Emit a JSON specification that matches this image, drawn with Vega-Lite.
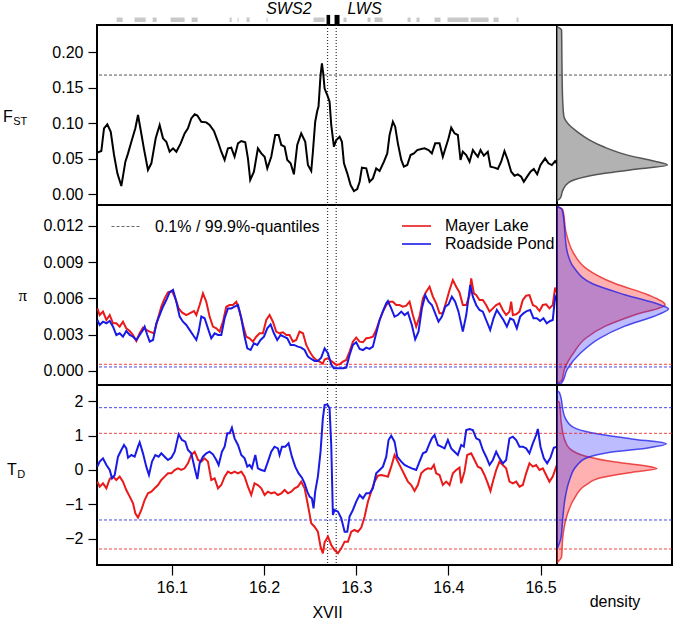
{
"$schema": "https://vega.github.io/schema/vega-lite/v6.json",
"padding": {"left": 2, "top": 0, "right": 2, "bottom": 2},
"background": "white",
"config": {
  "font": "Liberation Sans",
  "view": {"stroke": "#000", "strokeWidth": 2},
  "axis": {"labelFont": "Liberation Sans", "labelFontSize": 16, "labelColor": "#000", "tickColor": "#000", "tickSize": 9, "tickWidth": 1.2, "labelPadding": 5, "domain": false, "grid": false, "titleFont": "Liberation Sans", "titleFontSize": 16, "titleFontWeight": "normal", "titleColor": "#000"},
  "legend": {"labelFont": "Liberation Sans", "labelFontSize": 16, "labelColor": "#000", "padding": 0, "labelLimit": 400}
},
"datasets": {
  "genes": [{"start":16.0400,"end":16.0466},{"start":16.0595,"end":16.0715},{"start":16.0791,"end":16.0834},{"start":16.0986,"end":16.1138},{"start":16.1214,"end":16.1279},{"start":16.1626,"end":16.1648},{"start":16.1713,"end":16.1724},{"start":16.1810,"end":16.1843},{"start":16.2027,"end":16.2038},{"start":16.2537,"end":16.2656},{"start":16.2862,"end":16.2895},{"start":16.3123,"end":16.3155},{"start":16.3199,"end":16.3286},{"start":16.3557,"end":16.3590},{"start":16.3655,"end":16.3687},{"start":16.3850,"end":16.3915},{"start":16.3991,"end":16.4219},{"start":16.4241,"end":16.4436},{"start":16.4490,"end":16.4545},{"start":16.4740,"end":16.4761}],
  "focal": [{"name":"SWS2","start":16.2678,"end":16.2717},{"name":"LWS","start":16.2765,"end":16.2819}],
  "vlines": [{"pos":16.2689},{"pos":16.2783}],
  "fstq": [{"q":0.168}],
  "piq": [{"pop":"Mayer Lake","q":0.00055,"lab":"0.1% / 99.9%-quantiles"},{"pop":"Roadside Pond","q":0.00033,"lab":"0.1% / 99.9%-quantiles"}],
  "tdq": [{"pop":"Mayer Lake","q":1.063},{"pop":"Mayer Lake","q":-2.29},{"pop":"Roadside Pond","q":1.807},{"pop":"Roadside Pond","q":-1.449}],
  "fst": [{"pos":16.0191,"v":0.0587},{"pos":16.0234,"v":0.061},{"pos":16.0263,"v":0.093},{"pos":16.0299,"v":0.0986},{"pos":16.0336,"v":0.088},{"pos":16.0372,"v":0.0554},{"pos":16.0408,"v":0.0296},{"pos":16.0451,"v":0.0117},{"pos":16.0495,"v":0.046},{"pos":16.0524,"v":0.0577},{"pos":16.056,"v":0.074},{"pos":16.0603,"v":0.093},{"pos":16.0632,"v":0.1117},{"pos":16.0661,"v":0.0906},{"pos":16.0697,"v":0.0638},{"pos":16.074,"v":0.0343},{"pos":16.0777,"v":0.0437},{"pos":16.0824,"v":0.0789},{"pos":16.0867,"v":0.0977},{"pos":16.0903,"v":0.0789},{"pos":16.0939,"v":0.074},{"pos":16.0975,"v":0.06},{"pos":16.1012,"v":0.0648},{"pos":16.1048,"v":0.06},{"pos":16.1095,"v":0.0718},{"pos":16.1138,"v":0.0859},{"pos":16.1174,"v":0.093},{"pos":16.121,"v":0.107},{"pos":16.1247,"v":0.1127},{"pos":16.1276,"v":0.111},{"pos":16.1319,"v":0.1023},{"pos":16.1373,"v":0.1014},{"pos":16.1409,"v":0.0977},{"pos":16.1456,"v":0.0892},{"pos":16.15,"v":0.074},{"pos":16.1536,"v":0.06},{"pos":16.1572,"v":0.0484},{"pos":16.1608,"v":0.0648},{"pos":16.1644,"v":0.0657},{"pos":16.168,"v":0.053},{"pos":16.1717,"v":0.0718},{"pos":16.1753,"v":0.0751},{"pos":16.1796,"v":0.0732},{"pos":16.1825,"v":0.0507},{"pos":16.185,"v":0.0202},{"pos":16.189,"v":0.0319},{"pos":16.1933,"v":0.0648},{"pos":16.197,"v":0.0577},{"pos":16.2006,"v":0.053},{"pos":16.2035,"v":0.0366},{"pos":16.2078,"v":0.053},{"pos":16.2121,"v":0.0836},{"pos":16.2158,"v":0.0836},{"pos":16.2187,"v":0.0695},{"pos":16.2223,"v":0.0671},{"pos":16.2252,"v":0.0484},{"pos":16.2288,"v":0.0437},{"pos":16.2324,"v":0.0282},{"pos":16.236,"v":0.0695},{"pos":16.2403,"v":0.0859},{"pos":16.2447,"v":0.074},{"pos":16.2476,"v":0.0413},{"pos":16.2512,"v":0.0329},{"pos":16.253,"v":0.06},{"pos":16.2555,"v":0.1023},{"pos":16.2577,"v":0.1174},{"pos":16.2591,"v":0.1235},{"pos":16.2613,"v":0.168},{"pos":16.2628,"v":0.1845},{"pos":16.2642,"v":0.1704},{"pos":16.2657,"v":0.149},{"pos":16.2686,"v":0.1399},{"pos":16.2711,"v":0.1305},{"pos":16.2729,"v":0.0977},{"pos":16.2758,"v":0.0671},{"pos":16.2784,"v":0.0765},{"pos":16.282,"v":0.0812},{"pos":16.2845,"v":0.074},{"pos":16.2867,"v":0.0437},{"pos":16.2903,"v":0.0296},{"pos":16.2939,"v":0.0131},{"pos":16.2975,"v":0.0047},{"pos":16.3011,"v":0.0075},{"pos":16.3037,"v":0.0178},{"pos":16.3062,"v":0.0376},{"pos":16.3109,"v":0.0366},{"pos":16.3145,"v":0.0178},{"pos":16.3181,"v":0.0225},{"pos":16.3217,"v":0.0366},{"pos":16.3254,"v":0.0329},{"pos":16.3301,"v":0.046},{"pos":16.3337,"v":0.0577},{"pos":16.3362,"v":0.0836},{"pos":16.3398,"v":0.1023},{"pos":16.3423,"v":0.0953},{"pos":16.3452,"v":0.0718},{"pos":16.3489,"v":0.0484},{"pos":16.3517,"v":0.039},{"pos":16.3554,"v":0.0413},{"pos":16.359,"v":0.0554},{"pos":16.3626,"v":0.0577},{"pos":16.3662,"v":0.0624},{"pos":16.3705,"v":0.0638},{"pos":16.3742,"v":0.0648},{"pos":16.3785,"v":0.0624},{"pos":16.3821,"v":0.0577},{"pos":16.3857,"v":0.0718},{"pos":16.3904,"v":0.0718},{"pos":16.394,"v":0.053},{"pos":16.3966,"v":0.0638},{"pos":16.4002,"v":0.0789},{"pos":16.4031,"v":0.0939},{"pos":16.4067,"v":0.0859},{"pos":16.4103,"v":0.0836},{"pos":16.4132,"v":0.0484},{"pos":16.4157,"v":0.06},{"pos":16.4194,"v":0.0554},{"pos":16.423,"v":0.046},{"pos":16.4266,"v":0.0624},{"pos":16.4291,"v":0.0577},{"pos":16.432,"v":0.053},{"pos":16.4349,"v":0.0624},{"pos":16.4385,"v":0.0545},{"pos":16.4428,"v":0.06},{"pos":16.4457,"v":0.039},{"pos":16.4501,"v":0.0376},{"pos":16.4537,"v":0.0357},{"pos":16.4573,"v":0.046},{"pos":16.4609,"v":0.061},{"pos":16.4645,"v":0.0484},{"pos":16.4682,"v":0.0319},{"pos":16.4718,"v":0.0263},{"pos":16.4754,"v":0.0282},{"pos":16.479,"v":0.0249},{"pos":16.4819,"v":0.0178},{"pos":16.4855,"v":0.0249},{"pos":16.4891,"v":0.0319},{"pos":16.4927,"v":0.0357},{"pos":16.4964,"v":0.0282},{"pos":16.5,"v":0.0413},{"pos":16.505,"v":0.0507},{"pos":16.5086,"v":0.0437},{"pos":16.5123,"v":0.0413},{"pos":16.5159,"v":0.0469},{"pos":16.5177,"v":0.0437}],
  "pi": [
{"pop":"Mayer Lake","pos":16.0191,"v":0.00517},{"pop":"Mayer Lake","pos":16.0216,"v":0.00462},{"pop":"Mayer Lake","pos":16.0252,"v":0.0049},{"pop":"Mayer Lake","pos":16.0289,"v":0.00421},{"pop":"Mayer Lake","pos":16.0325,"v":0.00462},{"pop":"Mayer Lake","pos":16.0361,"v":0.00394},{"pop":"Mayer Lake","pos":16.0397,"v":0.00394},{"pop":"Mayer Lake","pos":16.0433,"v":0.00366},{"pop":"Mayer Lake","pos":16.0469,"v":0.00407},{"pop":"Mayer Lake","pos":16.0505,"v":0.00352},{"pop":"Mayer Lake","pos":16.0542,"v":0.0033},{"pop":"Mayer Lake","pos":16.0578,"v":0.00297},{"pop":"Mayer Lake","pos":16.0614,"v":0.00248},{"pop":"Mayer Lake","pos":16.065,"v":0.00311},{"pop":"Mayer Lake","pos":16.0686,"v":0.00358},{"pop":"Mayer Lake","pos":16.0722,"v":0.00339},{"pop":"Mayer Lake","pos":16.0759,"v":0.00325},{"pop":"Mayer Lake","pos":16.0806,"v":0.00311},{"pop":"Mayer Lake","pos":16.0849,"v":0.00435},{"pop":"Mayer Lake","pos":16.0885,"v":0.00531},{"pop":"Mayer Lake","pos":16.0921,"v":0.006},{"pop":"Mayer Lake","pos":16.0957,"v":0.00649},{"pop":"Mayer Lake","pos":16.1001,"v":0.0066},{"pop":"Mayer Lake","pos":16.1037,"v":0.006},{"pop":"Mayer Lake","pos":16.1073,"v":0.00517},{"pop":"Mayer Lake","pos":16.1109,"v":0.00484},{"pop":"Mayer Lake","pos":16.1156,"v":0.00462},{"pop":"Mayer Lake","pos":16.1192,"v":0.00476},{"pop":"Mayer Lake","pos":16.1239,"v":0.00495},{"pop":"Mayer Lake","pos":16.1265,"v":0.00462},{"pop":"Mayer Lake","pos":16.1301,"v":0.00545},{"pop":"Mayer Lake","pos":16.1337,"v":0.00641},{"pop":"Mayer Lake","pos":16.1373,"v":0.00572},{"pop":"Mayer Lake","pos":16.1409,"v":0.00449},{"pop":"Mayer Lake","pos":16.1445,"v":0.00366},{"pop":"Mayer Lake","pos":16.1482,"v":0.00352},{"pop":"Mayer Lake","pos":16.1518,"v":0.00325},{"pop":"Mayer Lake","pos":16.1554,"v":0.00407},{"pop":"Mayer Lake","pos":16.159,"v":0.00531},{"pop":"Mayer Lake","pos":16.1626,"v":0.00545},{"pop":"Mayer Lake","pos":16.1662,"v":0.00545},{"pop":"Mayer Lake","pos":16.1699,"v":0.00572},{"pop":"Mayer Lake","pos":16.1735,"v":0.0049},{"pop":"Mayer Lake","pos":16.1771,"v":0.0038},{"pop":"Mayer Lake","pos":16.1807,"v":0.00283},{"pop":"Mayer Lake","pos":16.1843,"v":0.0027},{"pop":"Mayer Lake","pos":16.1879,"v":0.00242},{"pop":"Mayer Lake","pos":16.1915,"v":0.00283},{"pop":"Mayer Lake","pos":16.1952,"v":0.00311},{"pop":"Mayer Lake","pos":16.1988,"v":0.00311},{"pop":"Mayer Lake","pos":16.2024,"v":0.00421},{"pop":"Mayer Lake","pos":16.206,"v":0.00462},{"pop":"Mayer Lake","pos":16.2096,"v":0.00407},{"pop":"Mayer Lake","pos":16.2132,"v":0.00325},{"pop":"Mayer Lake","pos":16.2168,"v":0.00311},{"pop":"Mayer Lake","pos":16.2205,"v":0.00319},{"pop":"Mayer Lake","pos":16.2241,"v":0.00297},{"pop":"Mayer Lake","pos":16.2277,"v":0.00297},{"pop":"Mayer Lake","pos":16.2313,"v":0.00242},{"pop":"Mayer Lake","pos":16.2349,"v":0.00256},{"pop":"Mayer Lake","pos":16.2385,"v":0.00325},{"pop":"Mayer Lake","pos":16.2422,"v":0.00311},{"pop":"Mayer Lake","pos":16.2458,"v":0.00215},{"pop":"Mayer Lake","pos":16.2494,"v":0.0016},{"pop":"Mayer Lake","pos":16.253,"v":0.00118},{"pop":"Mayer Lake","pos":16.2566,"v":0.00091},{"pop":"Mayer Lake","pos":16.2602,"v":0.00077},{"pop":"Mayer Lake","pos":16.2638,"v":0.00061},{"pop":"Mayer Lake","pos":16.2657,"v":0.00095},{"pop":"Mayer Lake","pos":16.2693,"v":0.00105},{"pop":"Mayer Lake","pos":16.2729,"v":0.00083},{"pop":"Mayer Lake","pos":16.2784,"v":0.0005},{"pop":"Mayer Lake","pos":16.282,"v":0.00055},{"pop":"Mayer Lake","pos":16.2856,"v":0.00077},{"pop":"Mayer Lake","pos":16.2892,"v":0.00091},{"pop":"Mayer Lake","pos":16.2928,"v":0.0016},{"pop":"Mayer Lake","pos":16.2964,"v":0.00242},{"pop":"Mayer Lake","pos":16.3,"v":0.00275},{"pop":"Mayer Lake","pos":16.3037,"v":0.00242},{"pop":"Mayer Lake","pos":16.3073,"v":0.00237},{"pop":"Mayer Lake","pos":16.3109,"v":0.0027},{"pop":"Mayer Lake","pos":16.3145,"v":0.00275},{"pop":"Mayer Lake","pos":16.3181,"v":0.00283},{"pop":"Mayer Lake","pos":16.3217,"v":0.00339},{"pop":"Mayer Lake","pos":16.3254,"v":0.00421},{"pop":"Mayer Lake","pos":16.329,"v":0.0049},{"pop":"Mayer Lake","pos":16.3326,"v":0.00545},{"pop":"Mayer Lake","pos":16.3362,"v":0.00572},{"pop":"Mayer Lake","pos":16.3398,"v":0.00572},{"pop":"Mayer Lake","pos":16.3434,"v":0.00545},{"pop":"Mayer Lake","pos":16.347,"v":0.00545},{"pop":"Mayer Lake","pos":16.3507,"v":0.00531},{"pop":"Mayer Lake","pos":16.3543,"v":0.00539},{"pop":"Mayer Lake","pos":16.3579,"v":0.00572},{"pop":"Mayer Lake","pos":16.3615,"v":0.00462},{"pop":"Mayer Lake","pos":16.3651,"v":0.00366},{"pop":"Mayer Lake","pos":16.3687,"v":0.00449},{"pop":"Mayer Lake","pos":16.3724,"v":0.006},{"pop":"Mayer Lake","pos":16.376,"v":0.00655},{"pop":"Mayer Lake","pos":16.3796,"v":0.00696},{"pop":"Mayer Lake","pos":16.3832,"v":0.00614},{"pop":"Mayer Lake","pos":16.3868,"v":0.00559},{"pop":"Mayer Lake","pos":16.3904,"v":0.00476},{"pop":"Mayer Lake","pos":16.394,"v":0.00476},{"pop":"Mayer Lake","pos":16.3977,"v":0.00572},{"pop":"Mayer Lake","pos":16.4013,"v":0.00669},{"pop":"Mayer Lake","pos":16.4049,"v":0.00751},{"pop":"Mayer Lake","pos":16.4085,"v":0.00696},{"pop":"Mayer Lake","pos":16.4121,"v":0.00649},{"pop":"Mayer Lake","pos":16.4157,"v":0.00545},{"pop":"Mayer Lake","pos":16.4194,"v":0.00545},{"pop":"Mayer Lake","pos":16.423,"v":0.00627},{"pop":"Mayer Lake","pos":16.4248,"v":0.00765},{"pop":"Mayer Lake","pos":16.4277,"v":0.00641},{"pop":"Mayer Lake","pos":16.4302,"v":0.00627},{"pop":"Mayer Lake","pos":16.4338,"v":0.00586},{"pop":"Mayer Lake","pos":16.4374,"v":0.00586},{"pop":"Mayer Lake","pos":16.441,"v":0.00545},{"pop":"Mayer Lake","pos":16.4447,"v":0.0049},{"pop":"Mayer Lake","pos":16.4483,"v":0.00517},{"pop":"Mayer Lake","pos":16.4519,"v":0.00545},{"pop":"Mayer Lake","pos":16.4555,"v":0.00559},{"pop":"Mayer Lake","pos":16.4591,"v":0.00504},{"pop":"Mayer Lake","pos":16.4627,"v":0.00462},{"pop":"Mayer Lake","pos":16.4663,"v":0.0049},{"pop":"Mayer Lake","pos":16.4682,"v":0.00572},{"pop":"Mayer Lake","pos":16.47,"v":0.00462},{"pop":"Mayer Lake","pos":16.4736,"v":0.00468},{"pop":"Mayer Lake","pos":16.4772,"v":0.0049},{"pop":"Mayer Lake","pos":16.4808,"v":0.00586},{"pop":"Mayer Lake","pos":16.4844,"v":0.00622},{"pop":"Mayer Lake","pos":16.488,"v":0.00627},{"pop":"Mayer Lake","pos":16.4917,"v":0.00545},{"pop":"Mayer Lake","pos":16.4953,"v":0.00531},{"pop":"Mayer Lake","pos":16.4989,"v":0.00495},{"pop":"Mayer Lake","pos":16.5025,"v":0.00545},{"pop":"Mayer Lake","pos":16.5061,"v":0.0055},{"pop":"Mayer Lake","pos":16.5097,"v":0.00517},{"pop":"Mayer Lake","pos":16.5133,"v":0.00545},{"pop":"Mayer Lake","pos":16.5159,"v":0.00688},{"pop":"Mayer Lake","pos":16.5177,"v":0.00649},
{"pop":"Roadside Pond","pos":16.0191,"v":0.00421},{"pop":"Roadside Pond","pos":16.0216,"v":0.0038},{"pop":"Roadside Pond","pos":16.0252,"v":0.00407},{"pop":"Roadside Pond","pos":16.0289,"v":0.00394},{"pop":"Roadside Pond","pos":16.0325,"v":0.00413},{"pop":"Roadside Pond","pos":16.0361,"v":0.00366},{"pop":"Roadside Pond","pos":16.0397,"v":0.00297},{"pop":"Roadside Pond","pos":16.0433,"v":0.00311},{"pop":"Roadside Pond","pos":16.0469,"v":0.00283},{"pop":"Roadside Pond","pos":16.0505,"v":0.0033},{"pop":"Roadside Pond","pos":16.0542,"v":0.00297},{"pop":"Roadside Pond","pos":16.0578,"v":0.00283},{"pop":"Roadside Pond","pos":16.0614,"v":0.00256},{"pop":"Roadside Pond","pos":16.065,"v":0.00297},{"pop":"Roadside Pond","pos":16.0686,"v":0.00339},{"pop":"Roadside Pond","pos":16.0704,"v":0.00366},{"pop":"Roadside Pond","pos":16.0733,"v":0.00297},{"pop":"Roadside Pond","pos":16.0759,"v":0.00242},{"pop":"Roadside Pond","pos":16.0795,"v":0.00256},{"pop":"Roadside Pond","pos":16.0831,"v":0.00394},{"pop":"Roadside Pond","pos":16.0867,"v":0.00462},{"pop":"Roadside Pond","pos":16.0903,"v":0.00531},{"pop":"Roadside Pond","pos":16.0939,"v":0.00586},{"pop":"Roadside Pond","pos":16.0975,"v":0.00649},{"pop":"Roadside Pond","pos":16.1012,"v":0.00669},{"pop":"Roadside Pond","pos":16.1048,"v":0.00572},{"pop":"Roadside Pond","pos":16.1084,"v":0.00449},{"pop":"Roadside Pond","pos":16.112,"v":0.00407},{"pop":"Roadside Pond","pos":16.1156,"v":0.0038},{"pop":"Roadside Pond","pos":16.1192,"v":0.00339},{"pop":"Roadside Pond","pos":16.1229,"v":0.00297},{"pop":"Roadside Pond","pos":16.1265,"v":0.00256},{"pop":"Roadside Pond","pos":16.129,"v":0.00325},{"pop":"Roadside Pond","pos":16.1319,"v":0.00449},{"pop":"Roadside Pond","pos":16.1355,"v":0.00435},{"pop":"Roadside Pond","pos":16.1391,"v":0.00352},{"pop":"Roadside Pond","pos":16.1427,"v":0.0027},{"pop":"Roadside Pond","pos":16.1464,"v":0.00311},{"pop":"Roadside Pond","pos":16.15,"v":0.00297},{"pop":"Roadside Pond","pos":16.1536,"v":0.00297},{"pop":"Roadside Pond","pos":16.1572,"v":0.00435},{"pop":"Roadside Pond","pos":16.1608,"v":0.00517},{"pop":"Roadside Pond","pos":16.1644,"v":0.00517},{"pop":"Roadside Pond","pos":16.168,"v":0.00531},{"pop":"Roadside Pond","pos":16.1717,"v":0.00545},{"pop":"Roadside Pond","pos":16.1753,"v":0.00435},{"pop":"Roadside Pond","pos":16.1789,"v":0.00283},{"pop":"Roadside Pond","pos":16.1818,"v":0.00187},{"pop":"Roadside Pond","pos":16.1854,"v":0.00173},{"pop":"Roadside Pond","pos":16.189,"v":0.00228},{"pop":"Roadside Pond","pos":16.1926,"v":0.00215},{"pop":"Roadside Pond","pos":16.1962,"v":0.00256},{"pop":"Roadside Pond","pos":16.1999,"v":0.00283},{"pop":"Roadside Pond","pos":16.2035,"v":0.00352},{"pop":"Roadside Pond","pos":16.2071,"v":0.00385},{"pop":"Roadside Pond","pos":16.2107,"v":0.00311},{"pop":"Roadside Pond","pos":16.2143,"v":0.00256},{"pop":"Roadside Pond","pos":16.2179,"v":0.00297},{"pop":"Roadside Pond","pos":16.2215,"v":0.00283},{"pop":"Roadside Pond","pos":16.2252,"v":0.0027},{"pop":"Roadside Pond","pos":16.2288,"v":0.00215},{"pop":"Roadside Pond","pos":16.2324,"v":0.00215},{"pop":"Roadside Pond","pos":16.2367,"v":0.00201},{"pop":"Roadside Pond","pos":16.2403,"v":0.00193},{"pop":"Roadside Pond","pos":16.244,"v":0.00173},{"pop":"Roadside Pond","pos":16.2476,"v":0.00118},{"pop":"Roadside Pond","pos":16.2512,"v":0.00099},{"pop":"Roadside Pond","pos":16.2548,"v":0.00083},{"pop":"Roadside Pond","pos":16.2584,"v":0.00083},{"pop":"Roadside Pond","pos":16.262,"v":0.0011},{"pop":"Roadside Pond","pos":16.2657,"v":0.00187},{"pop":"Roadside Pond","pos":16.2693,"v":0.00146},{"pop":"Roadside Pond","pos":16.2729,"v":0.00055},{"pop":"Roadside Pond","pos":16.2758,"v":0.00022},{"pop":"Roadside Pond","pos":16.2802,"v":0.00022},{"pop":"Roadside Pond","pos":16.2856,"v":0.00022},{"pop":"Roadside Pond","pos":16.2892,"v":0.00028},{"pop":"Roadside Pond","pos":16.2928,"v":0.00132},{"pop":"Roadside Pond","pos":16.2964,"v":0.00215},{"pop":"Roadside Pond","pos":16.3,"v":0.00237},{"pop":"Roadside Pond","pos":16.3037,"v":0.00182},{"pop":"Roadside Pond","pos":16.3073,"v":0.00173},{"pop":"Roadside Pond","pos":16.3109,"v":0.00193},{"pop":"Roadside Pond","pos":16.3145,"v":0.00182},{"pop":"Roadside Pond","pos":16.3181,"v":0.00201},{"pop":"Roadside Pond","pos":16.3217,"v":0.00311},{"pop":"Roadside Pond","pos":16.3254,"v":0.00421},{"pop":"Roadside Pond","pos":16.329,"v":0.00495},{"pop":"Roadside Pond","pos":16.3326,"v":0.00559},{"pop":"Roadside Pond","pos":16.3344,"v":0.00578},{"pop":"Roadside Pond","pos":16.338,"v":0.00517},{"pop":"Roadside Pond","pos":16.3416,"v":0.00449},{"pop":"Roadside Pond","pos":16.3452,"v":0.00462},{"pop":"Roadside Pond","pos":16.3489,"v":0.0049},{"pop":"Roadside Pond","pos":16.3525,"v":0.00462},{"pop":"Roadside Pond","pos":16.3561,"v":0.00484},{"pop":"Roadside Pond","pos":16.3604,"v":0.0038},{"pop":"Roadside Pond","pos":16.364,"v":0.00261},{"pop":"Roadside Pond","pos":16.3676,"v":0.00325},{"pop":"Roadside Pond","pos":16.3713,"v":0.00517},{"pop":"Roadside Pond","pos":16.3749,"v":0.00627},{"pop":"Roadside Pond","pos":16.3785,"v":0.00572},{"pop":"Roadside Pond","pos":16.3821,"v":0.00545},{"pop":"Roadside Pond","pos":16.3857,"v":0.00476},{"pop":"Roadside Pond","pos":16.3893,"v":0.00407},{"pop":"Roadside Pond","pos":16.393,"v":0.00449},{"pop":"Roadside Pond","pos":16.3966,"v":0.00531},{"pop":"Roadside Pond","pos":16.4002,"v":0.0055},{"pop":"Roadside Pond","pos":16.4038,"v":0.00614},{"pop":"Roadside Pond","pos":16.4074,"v":0.00572},{"pop":"Roadside Pond","pos":16.411,"v":0.0049},{"pop":"Roadside Pond","pos":16.4157,"v":0.00325},{"pop":"Roadside Pond","pos":16.4194,"v":0.00462},{"pop":"Roadside Pond","pos":16.4237,"v":0.0071},{"pop":"Roadside Pond","pos":16.4266,"v":0.00614},{"pop":"Roadside Pond","pos":16.4302,"v":0.00545},{"pop":"Roadside Pond","pos":16.4338,"v":0.00504},{"pop":"Roadside Pond","pos":16.4374,"v":0.0049},{"pop":"Roadside Pond","pos":16.441,"v":0.00421},{"pop":"Roadside Pond","pos":16.4454,"v":0.00339},{"pop":"Roadside Pond","pos":16.449,"v":0.00435},{"pop":"Roadside Pond","pos":16.4526,"v":0.00504},{"pop":"Roadside Pond","pos":16.4562,"v":0.00462},{"pop":"Roadside Pond","pos":16.4598,"v":0.00421},{"pop":"Roadside Pond","pos":16.4635,"v":0.00366},{"pop":"Roadside Pond","pos":16.4671,"v":0.00435},{"pop":"Roadside Pond","pos":16.4707,"v":0.00421},{"pop":"Roadside Pond","pos":16.4743,"v":0.00352},{"pop":"Roadside Pond","pos":16.4779,"v":0.00449},{"pop":"Roadside Pond","pos":16.4815,"v":0.00476},{"pop":"Roadside Pond","pos":16.4851,"v":0.00495},{"pop":"Roadside Pond","pos":16.4888,"v":0.00504},{"pop":"Roadside Pond","pos":16.4924,"v":0.00435},{"pop":"Roadside Pond","pos":16.496,"v":0.00435},{"pop":"Roadside Pond","pos":16.4996,"v":0.00413},{"pop":"Roadside Pond","pos":16.5032,"v":0.00435},{"pop":"Roadside Pond","pos":16.5068,"v":0.00394},{"pop":"Roadside Pond","pos":16.5105,"v":0.00413},{"pop":"Roadside Pond","pos":16.5133,"v":0.00421},{"pop":"Roadside Pond","pos":16.5159,"v":0.00614},{"pop":"Roadside Pond","pos":16.5177,"v":0.00586}],
  "td": [
{"pop":"Mayer Lake","pos":16.0191,"v":-0.338},{"pop":"Mayer Lake","pos":16.0216,"v":-0.483},{"pop":"Mayer Lake","pos":16.0252,"v":-0.386},{"pop":"Mayer Lake","pos":16.0289,"v":-0.531},{"pop":"Mayer Lake","pos":16.0325,"v":-0.261},{"pop":"Mayer Lake","pos":16.0361,"v":-0.193},{"pop":"Mayer Lake","pos":16.0397,"v":-0.29},{"pop":"Mayer Lake","pos":16.0433,"v":-0.193},{"pop":"Mayer Lake","pos":16.0469,"v":-0.338},{"pop":"Mayer Lake","pos":16.0505,"v":-0.58},{"pop":"Mayer Lake","pos":16.0542,"v":-0.773},{"pop":"Mayer Lake","pos":16.0578,"v":-0.966},{"pop":"Mayer Lake","pos":16.0603,"v":-1.256},{"pop":"Mayer Lake","pos":16.0632,"v":-1.382},{"pop":"Mayer Lake","pos":16.0668,"v":-1.159},{"pop":"Mayer Lake","pos":16.0704,"v":-0.87},{"pop":"Mayer Lake","pos":16.074,"v":-0.676},{"pop":"Mayer Lake","pos":16.0777,"v":-0.628},{"pop":"Mayer Lake","pos":16.0813,"v":-0.531},{"pop":"Mayer Lake","pos":16.0849,"v":-0.435},{"pop":"Mayer Lake","pos":16.0885,"v":-0.29},{"pop":"Mayer Lake","pos":16.0921,"v":-0.193},{"pop":"Mayer Lake","pos":16.0957,"v":-0.097},{"pop":"Mayer Lake","pos":16.0994,"v":-0.097},{"pop":"Mayer Lake","pos":16.103,"v":0},{"pop":"Mayer Lake","pos":16.1066,"v":0.048},{"pop":"Mayer Lake","pos":16.1102,"v":0},{"pop":"Mayer Lake","pos":16.1138,"v":0.048},{"pop":"Mayer Lake","pos":16.1174,"v":0.193},{"pop":"Mayer Lake","pos":16.121,"v":0.435},{"pop":"Mayer Lake","pos":16.1247,"v":0.531},{"pop":"Mayer Lake","pos":16.1283,"v":0.29},{"pop":"Mayer Lake","pos":16.1319,"v":0.242},{"pop":"Mayer Lake","pos":16.1355,"v":0.338},{"pop":"Mayer Lake","pos":16.1391,"v":0.242},{"pop":"Mayer Lake","pos":16.1427,"v":-0.29},{"pop":"Mayer Lake","pos":16.1464,"v":-0.242},{"pop":"Mayer Lake","pos":16.15,"v":-0.531},{"pop":"Mayer Lake","pos":16.1536,"v":-0.435},{"pop":"Mayer Lake","pos":16.1572,"v":-0.193},{"pop":"Mayer Lake","pos":16.1608,"v":-0.048},{"pop":"Mayer Lake","pos":16.1644,"v":-0.097},{"pop":"Mayer Lake","pos":16.168,"v":-0.048},{"pop":"Mayer Lake","pos":16.1717,"v":-0.097},{"pop":"Mayer Lake","pos":16.1753,"v":-0.048},{"pop":"Mayer Lake","pos":16.1789,"v":-0.193},{"pop":"Mayer Lake","pos":16.1825,"v":-0.483},{"pop":"Mayer Lake","pos":16.1861,"v":-0.725},{"pop":"Mayer Lake","pos":16.1897,"v":-0.386},{"pop":"Mayer Lake","pos":16.1933,"v":-0.435},{"pop":"Mayer Lake","pos":16.197,"v":-0.531},{"pop":"Mayer Lake","pos":16.2006,"v":-0.725},{"pop":"Mayer Lake","pos":16.2042,"v":-0.628},{"pop":"Mayer Lake","pos":16.2078,"v":-0.676},{"pop":"Mayer Lake","pos":16.2114,"v":-0.647},{"pop":"Mayer Lake","pos":16.215,"v":-0.725},{"pop":"Mayer Lake","pos":16.2187,"v":-0.676},{"pop":"Mayer Lake","pos":16.2223,"v":-0.58},{"pop":"Mayer Lake","pos":16.2259,"v":-0.676},{"pop":"Mayer Lake","pos":16.2295,"v":-0.628},{"pop":"Mayer Lake","pos":16.2331,"v":-0.531},{"pop":"Mayer Lake","pos":16.2367,"v":-0.483},{"pop":"Mayer Lake","pos":16.2403,"v":-0.338},{"pop":"Mayer Lake","pos":16.244,"v":-0.531},{"pop":"Mayer Lake","pos":16.2476,"v":-1.014},{"pop":"Mayer Lake","pos":16.2512,"v":-1.546},{"pop":"Mayer Lake","pos":16.2548,"v":-1.643},{"pop":"Mayer Lake","pos":16.2584,"v":-1.787},{"pop":"Mayer Lake","pos":16.2613,"v":-2.222},{"pop":"Mayer Lake","pos":16.2638,"v":-2.415},{"pop":"Mayer Lake","pos":16.2657,"v":-2.1},{"pop":"Mayer Lake","pos":16.2693,"v":-1.932},{"pop":"Mayer Lake","pos":16.2729,"v":-2.174},{"pop":"Mayer Lake","pos":16.2765,"v":-2.319},{"pop":"Mayer Lake","pos":16.2802,"v":-2.415},{"pop":"Mayer Lake","pos":16.2838,"v":-2.271},{"pop":"Mayer Lake","pos":16.2874,"v":-2.077},{"pop":"Mayer Lake","pos":16.291,"v":-2.077},{"pop":"Mayer Lake","pos":16.2946,"v":-1.787},{"pop":"Mayer Lake","pos":16.2982,"v":-1.739},{"pop":"Mayer Lake","pos":16.3019,"v":-1.787},{"pop":"Mayer Lake","pos":16.3055,"v":-1.671},{"pop":"Mayer Lake","pos":16.3091,"v":-1.353},{"pop":"Mayer Lake","pos":16.3127,"v":-0.918},{"pop":"Mayer Lake","pos":16.3163,"v":-0.628},{"pop":"Mayer Lake","pos":16.3199,"v":-0.338},{"pop":"Mayer Lake","pos":16.3235,"v":-0.164},{"pop":"Mayer Lake","pos":16.3272,"v":-0.145},{"pop":"Mayer Lake","pos":16.3308,"v":-0.164},{"pop":"Mayer Lake","pos":16.3344,"v":-0.193},{"pop":"Mayer Lake","pos":16.338,"v":0.097},{"pop":"Mayer Lake","pos":16.3416,"v":0.435},{"pop":"Mayer Lake","pos":16.3452,"v":0.242},{"pop":"Mayer Lake","pos":16.3489,"v":0.048},{"pop":"Mayer Lake","pos":16.3525,"v":-0.145},{"pop":"Mayer Lake","pos":16.3561,"v":-0.338},{"pop":"Mayer Lake","pos":16.3597,"v":-0.435},{"pop":"Mayer Lake","pos":16.3633,"v":-0.609},{"pop":"Mayer Lake","pos":16.3669,"v":-0.435},{"pop":"Mayer Lake","pos":16.3705,"v":-0.097},{"pop":"Mayer Lake","pos":16.3742,"v":0},{"pop":"Mayer Lake","pos":16.3778,"v":0.048},{"pop":"Mayer Lake","pos":16.3814,"v":0.029},{"pop":"Mayer Lake","pos":16.3843,"v":0.145},{"pop":"Mayer Lake","pos":16.3868,"v":-0.097},{"pop":"Mayer Lake","pos":16.3904,"v":-0.145},{"pop":"Mayer Lake","pos":16.394,"v":-0.435},{"pop":"Mayer Lake","pos":16.3977,"v":-0.338},{"pop":"Mayer Lake","pos":16.4013,"v":-0.435},{"pop":"Mayer Lake","pos":16.4049,"v":-0.097},{"pop":"Mayer Lake","pos":16.4085,"v":0},{"pop":"Mayer Lake","pos":16.4121,"v":0.068},{"pop":"Mayer Lake","pos":16.4139,"v":-0.386},{"pop":"Mayer Lake","pos":16.4175,"v":-0.048},{"pop":"Mayer Lake","pos":16.4204,"v":0.435},{"pop":"Mayer Lake","pos":16.4248,"v":0.483},{"pop":"Mayer Lake","pos":16.4284,"v":0.29},{"pop":"Mayer Lake","pos":16.432,"v":0.097},{"pop":"Mayer Lake","pos":16.4356,"v":0.048},{"pop":"Mayer Lake","pos":16.4392,"v":-0.145},{"pop":"Mayer Lake","pos":16.4428,"v":-0.386},{"pop":"Mayer Lake","pos":16.4457,"v":-0.609},{"pop":"Mayer Lake","pos":16.4483,"v":-0.338},{"pop":"Mayer Lake","pos":16.4519,"v":0},{"pop":"Mayer Lake","pos":16.4555,"v":0.242},{"pop":"Mayer Lake","pos":16.4591,"v":0.145},{"pop":"Mayer Lake","pos":16.4627,"v":0.048},{"pop":"Mayer Lake","pos":16.4663,"v":-0.338},{"pop":"Mayer Lake","pos":16.47,"v":-0.386},{"pop":"Mayer Lake","pos":16.4736,"v":-0.338},{"pop":"Mayer Lake","pos":16.4772,"v":-0.483},{"pop":"Mayer Lake","pos":16.4808,"v":-0.435},{"pop":"Mayer Lake","pos":16.4844,"v":-0.097},{"pop":"Mayer Lake","pos":16.488,"v":0.193},{"pop":"Mayer Lake","pos":16.4917,"v":0.097},{"pop":"Mayer Lake","pos":16.4953,"v":0.145},{"pop":"Mayer Lake","pos":16.4989,"v":0},{"pop":"Mayer Lake","pos":16.5025,"v":0.048},{"pop":"Mayer Lake","pos":16.5061,"v":-0.145},{"pop":"Mayer Lake","pos":16.5097,"v":-0.338},{"pop":"Mayer Lake","pos":16.5133,"v":-0.193},{"pop":"Mayer Lake","pos":16.5177,"v":0.145},
{"pop":"Roadside Pond","pos":16.0191,"v":0.097},{"pop":"Roadside Pond","pos":16.0216,"v":0.242},{"pop":"Roadside Pond","pos":16.0252,"v":0.338},{"pop":"Roadside Pond","pos":16.0289,"v":0.145},{"pop":"Roadside Pond","pos":16.0325,"v":0},{"pop":"Roadside Pond","pos":16.035,"v":-0.242},{"pop":"Roadside Pond","pos":16.0379,"v":-0.145},{"pop":"Roadside Pond","pos":16.0415,"v":0.386},{"pop":"Roadside Pond","pos":16.0451,"v":0.58},{"pop":"Roadside Pond","pos":16.048,"v":0.725},{"pop":"Roadside Pond","pos":16.0505,"v":0.628},{"pop":"Roadside Pond","pos":16.0524,"v":0.357},{"pop":"Roadside Pond","pos":16.056,"v":0.435},{"pop":"Roadside Pond","pos":16.0596,"v":0.386},{"pop":"Roadside Pond","pos":16.0632,"v":0.676},{"pop":"Roadside Pond","pos":16.065,"v":0.802},{"pop":"Roadside Pond","pos":16.0686,"v":0.483},{"pop":"Roadside Pond","pos":16.0722,"v":0.097},{"pop":"Roadside Pond","pos":16.0751,"v":-0.145},{"pop":"Roadside Pond","pos":16.0784,"v":0.242},{"pop":"Roadside Pond","pos":16.082,"v":0.435},{"pop":"Roadside Pond","pos":16.0856,"v":0.386},{"pop":"Roadside Pond","pos":16.0885,"v":0.483},{"pop":"Roadside Pond","pos":16.0921,"v":0.386},{"pop":"Roadside Pond","pos":16.0957,"v":0.29},{"pop":"Roadside Pond","pos":16.0994,"v":0.357},{"pop":"Roadside Pond","pos":16.103,"v":0.531},{"pop":"Roadside Pond","pos":16.1073,"v":1.034},{"pop":"Roadside Pond","pos":16.1109,"v":0.87},{"pop":"Roadside Pond","pos":16.1145,"v":0.821},{"pop":"Roadside Pond","pos":16.1174,"v":0.58},{"pop":"Roadside Pond","pos":16.121,"v":0.483},{"pop":"Roadside Pond","pos":16.1247,"v":0.048},{"pop":"Roadside Pond","pos":16.1276,"v":-0.261},{"pop":"Roadside Pond","pos":16.1301,"v":0.193},{"pop":"Roadside Pond","pos":16.1337,"v":0.386},{"pop":"Roadside Pond","pos":16.1373,"v":0.483},{"pop":"Roadside Pond","pos":16.1409,"v":0.531},{"pop":"Roadside Pond","pos":16.1445,"v":0.454},{"pop":"Roadside Pond","pos":16.1482,"v":0.29},{"pop":"Roadside Pond","pos":16.1507,"v":0.145},{"pop":"Roadside Pond","pos":16.1543,"v":0.531},{"pop":"Roadside Pond","pos":16.1572,"v":0.676},{"pop":"Roadside Pond","pos":16.1601,"v":1.063},{"pop":"Roadside Pond","pos":16.1626,"v":1.063},{"pop":"Roadside Pond","pos":16.1651,"v":1.227},{"pop":"Roadside Pond","pos":16.168,"v":0.918},{"pop":"Roadside Pond","pos":16.1717,"v":0.725},{"pop":"Roadside Pond","pos":16.1753,"v":0.435},{"pop":"Roadside Pond","pos":16.1789,"v":0.338},{"pop":"Roadside Pond","pos":16.1818,"v":0.097},{"pop":"Roadside Pond","pos":16.1843,"v":0.145},{"pop":"Roadside Pond","pos":16.1868,"v":0.048},{"pop":"Roadside Pond","pos":16.1905,"v":0.435},{"pop":"Roadside Pond","pos":16.1933,"v":0.048},{"pop":"Roadside Pond","pos":16.197,"v":0},{"pop":"Roadside Pond","pos":16.2006,"v":-0.029},{"pop":"Roadside Pond","pos":16.2042,"v":0.242},{"pop":"Roadside Pond","pos":16.2078,"v":0.531},{"pop":"Roadside Pond","pos":16.2114,"v":0.676},{"pop":"Roadside Pond","pos":16.215,"v":0.628},{"pop":"Roadside Pond","pos":16.2168,"v":0.435},{"pop":"Roadside Pond","pos":16.2194,"v":0.676},{"pop":"Roadside Pond","pos":16.223,"v":0.676},{"pop":"Roadside Pond","pos":16.2266,"v":0.773},{"pop":"Roadside Pond","pos":16.2302,"v":0.386},{"pop":"Roadside Pond","pos":16.2338,"v":0.097},{"pop":"Roadside Pond","pos":16.2375,"v":-0.097},{"pop":"Roadside Pond","pos":16.2411,"v":-0.222},{"pop":"Roadside Pond","pos":16.244,"v":-0.386},{"pop":"Roadside Pond","pos":16.2469,"v":-0.628},{"pop":"Roadside Pond","pos":16.2494,"v":-0.773},{"pop":"Roadside Pond","pos":16.2519,"v":-0.821},{"pop":"Roadside Pond","pos":16.2537,"v":-1.111},{"pop":"Roadside Pond","pos":16.2555,"v":-0.628},{"pop":"Roadside Pond","pos":16.2584,"v":-0.193},{"pop":"Roadside Pond","pos":16.2613,"v":0.531},{"pop":"Roadside Pond","pos":16.2638,"v":1.498},{"pop":"Roadside Pond","pos":16.2657,"v":1.884},{"pop":"Roadside Pond","pos":16.2686,"v":1.903},{"pop":"Roadside Pond","pos":16.2711,"v":1.787},{"pop":"Roadside Pond","pos":16.2729,"v":0.725},{"pop":"Roadside Pond","pos":16.2747,"v":-1.304},{"pop":"Roadside Pond","pos":16.2765,"v":-1.159},{"pop":"Roadside Pond","pos":16.2802,"v":-1.208},{"pop":"Roadside Pond","pos":16.2838,"v":-1.401},{"pop":"Roadside Pond","pos":16.2874,"v":-1.787},{"pop":"Roadside Pond","pos":16.2903,"v":-1.787},{"pop":"Roadside Pond","pos":16.2928,"v":-1.353},{"pop":"Roadside Pond","pos":16.2964,"v":-1.159},{"pop":"Roadside Pond","pos":16.3,"v":-0.918},{"pop":"Roadside Pond","pos":16.3037,"v":-0.725},{"pop":"Roadside Pond","pos":16.3073,"v":-0.821},{"pop":"Roadside Pond","pos":16.3109,"v":-0.676},{"pop":"Roadside Pond","pos":16.3145,"v":-0.676},{"pop":"Roadside Pond","pos":16.3181,"v":-0.531},{"pop":"Roadside Pond","pos":16.3217,"v":-0.097},{"pop":"Roadside Pond","pos":16.3254,"v":0},{"pop":"Roadside Pond","pos":16.329,"v":0.097},{"pop":"Roadside Pond","pos":16.3326,"v":0.386},{"pop":"Roadside Pond","pos":16.3351,"v":0.87},{"pop":"Roadside Pond","pos":16.338,"v":0.995},{"pop":"Roadside Pond","pos":16.3416,"v":0.821},{"pop":"Roadside Pond","pos":16.3445,"v":0.386},{"pop":"Roadside Pond","pos":16.3489,"v":0.242},{"pop":"Roadside Pond","pos":16.3525,"v":0.145},{"pop":"Roadside Pond","pos":16.3561,"v":0.097},{"pop":"Roadside Pond","pos":16.3604,"v":0.048},{"pop":"Roadside Pond","pos":16.3651,"v":0},{"pop":"Roadside Pond","pos":16.3687,"v":0.242},{"pop":"Roadside Pond","pos":16.3724,"v":0.483},{"pop":"Roadside Pond","pos":16.376,"v":0.531},{"pop":"Roadside Pond","pos":16.3796,"v":0.773},{"pop":"Roadside Pond","pos":16.3821,"v":0.918},{"pop":"Roadside Pond","pos":16.385,"v":1.014},{"pop":"Roadside Pond","pos":16.3886,"v":0.725},{"pop":"Roadside Pond","pos":16.3922,"v":0.676},{"pop":"Roadside Pond","pos":16.3959,"v":0.628},{"pop":"Roadside Pond","pos":16.3995,"v":0.87},{"pop":"Roadside Pond","pos":16.4031,"v":0.628},{"pop":"Roadside Pond","pos":16.4067,"v":0.531},{"pop":"Roadside Pond","pos":16.4103,"v":0.435},{"pop":"Roadside Pond","pos":16.4139,"v":0.725},{"pop":"Roadside Pond","pos":16.4168,"v":0.676},{"pop":"Roadside Pond","pos":16.4194,"v":1.159},{"pop":"Roadside Pond","pos":16.423,"v":1.188},{"pop":"Roadside Pond","pos":16.4266,"v":1.159},{"pop":"Roadside Pond","pos":16.4302,"v":0.918},{"pop":"Roadside Pond","pos":16.4338,"v":0.87},{"pop":"Roadside Pond","pos":16.4374,"v":0.58},{"pop":"Roadside Pond","pos":16.441,"v":0.386},{"pop":"Roadside Pond","pos":16.4447,"v":0.145},{"pop":"Roadside Pond","pos":16.4483,"v":0.29},{"pop":"Roadside Pond","pos":16.4519,"v":0.531},{"pop":"Roadside Pond","pos":16.4555,"v":0.338},{"pop":"Roadside Pond","pos":16.4591,"v":0.193},{"pop":"Roadside Pond","pos":16.4627,"v":0.29},{"pop":"Roadside Pond","pos":16.4663,"v":0.918},{"pop":"Roadside Pond","pos":16.47,"v":0.966},{"pop":"Roadside Pond","pos":16.4736,"v":0.87},{"pop":"Roadside Pond","pos":16.4772,"v":0.676},{"pop":"Roadside Pond","pos":16.4808,"v":0.676},{"pop":"Roadside Pond","pos":16.4844,"v":0.628},{"pop":"Roadside Pond","pos":16.488,"v":0.483},{"pop":"Roadside Pond","pos":16.4917,"v":0.773},{"pop":"Roadside Pond","pos":16.4953,"v":1.014},{"pop":"Roadside Pond","pos":16.4971,"v":1.188},{"pop":"Roadside Pond","pos":16.5,"v":0.676},{"pop":"Roadside Pond","pos":16.5036,"v":0.338},{"pop":"Roadside Pond","pos":16.5072,"v":0.193},{"pop":"Roadside Pond","pos":16.5108,"v":0.357},{"pop":"Roadside Pond","pos":16.5144,"v":0.647},{"pop":"Roadside Pond","pos":16.5177,"v":0.676}],
  "dens": [
{"panel":"fst","pop":"all","v":0.236,"d":0},{"panel":"fst","pop":"all","v":0.231,"d":0.04},{"panel":"fst","pop":"all","v":0.2,"d":0.042},{"panel":"fst","pop":"all","v":0.16,"d":0.045},{"panel":"fst","pop":"all","v":0.13,"d":0.05},{"panel":"fst","pop":"all","v":0.1097,"d":0.06},{"panel":"fst","pop":"all","v":0.0987,"d":0.1},{"panel":"fst","pop":"all","v":0.0877,"d":0.18},{"panel":"fst","pop":"all","v":0.0768,"d":0.28},{"panel":"fst","pop":"all","v":0.0659,"d":0.42},{"panel":"fst","pop":"all","v":0.0549,"d":0.62},{"panel":"fst","pop":"all","v":0.0466,"d":0.85},{"panel":"fst","pop":"all","v":0.0413,"d":0.96},{"panel":"fst","pop":"all","v":0.0356,"d":0.7},{"panel":"fst","pop":"all","v":0.0303,"d":0.45},{"panel":"fst","pop":"all","v":0.0248,"d":0.25},{"panel":"fst","pop":"all","v":0.0166,"d":0.1},{"panel":"fst","pop":"all","v":0.0056,"d":0.05},{"panel":"fst","pop":"all","v":-0.005,"d":0.03},{"panel":"fst","pop":"all","v":-0.009,"d":0},
{"panel":"pi","pop":"Mayer Lake","v":0.0136,"d":0},{"panel":"pi","pop":"Mayer Lake","v":0.01333,"d":0.05},{"panel":"pi","pop":"Mayer Lake","v":0.0114,"d":0.08},{"panel":"pi","pop":"Mayer Lake","v":0.0098,"d":0.14},{"panel":"pi","pop":"Mayer Lake","v":0.0085,"d":0.25},{"panel":"pi","pop":"Mayer Lake","v":0.0072,"d":0.51},{"panel":"pi","pop":"Mayer Lake","v":0.0063,"d":0.79},{"panel":"pi","pop":"Mayer Lake","v":0.00545,"d":0.94},{"panel":"pi","pop":"Mayer Lake","v":0.00465,"d":0.68},{"panel":"pi","pop":"Mayer Lake","v":0.0037,"d":0.42},{"panel":"pi","pop":"Mayer Lake","v":0.0027,"d":0.25},{"panel":"pi","pop":"Mayer Lake","v":0.00144,"d":0.14},{"panel":"pi","pop":"Mayer Lake","v":0.00016,"d":0.065},{"panel":"pi","pop":"Mayer Lake","v":-0.0008,"d":0.04},{"panel":"pi","pop":"Mayer Lake","v":-0.001,"d":0},
{"panel":"pi","pop":"Roadside Pond","v":0.0136,"d":0},{"panel":"pi","pop":"Roadside Pond","v":0.01333,"d":0.045},{"panel":"pi","pop":"Roadside Pond","v":0.0098,"d":0.09},{"panel":"pi","pop":"Roadside Pond","v":0.0085,"d":0.15},{"panel":"pi","pop":"Roadside Pond","v":0.0072,"d":0.31},{"panel":"pi","pop":"Roadside Pond","v":0.0063,"d":0.59},{"panel":"pi","pop":"Roadside Pond","v":0.00545,"d":0.9},{"panel":"pi","pop":"Roadside Pond","v":0.00513,"d":0.97},{"panel":"pi","pop":"Roadside Pond","v":0.00465,"d":0.88},{"panel":"pi","pop":"Roadside Pond","v":0.0037,"d":0.59},{"panel":"pi","pop":"Roadside Pond","v":0.0027,"d":0.37},{"panel":"pi","pop":"Roadside Pond","v":0.00144,"d":0.2},{"panel":"pi","pop":"Roadside Pond","v":0.00016,"d":0.09},{"panel":"pi","pop":"Roadside Pond","v":-0.001,"d":0.04},{"panel":"pi","pop":"Roadside Pond","v":-0.0011,"d":0},
{"panel":"td","pop":"Mayer Lake","v":2.0,"d":0},{"panel":"td","pop":"Mayer Lake","v":1.97,"d":0.02},{"panel":"td","pop":"Mayer Lake","v":1.3,"d":0.04},{"panel":"td","pop":"Mayer Lake","v":0.85,"d":0.07},{"panel":"td","pop":"Mayer Lake","v":0.62,"d":0.11},{"panel":"td","pop":"Mayer Lake","v":0.4,"d":0.25},{"panel":"td","pop":"Mayer Lake","v":0.23,"d":0.51},{"panel":"td","pop":"Mayer Lake","v":0.12,"d":0.77},{"panel":"td","pop":"Mayer Lake","v":0.04,"d":0.87},{"panel":"td","pop":"Mayer Lake","v":-0.07,"d":0.65},{"panel":"td","pop":"Mayer Lake","v":-0.22,"d":0.39},{"panel":"td","pop":"Mayer Lake","v":-0.44,"d":0.25},{"panel":"td","pop":"Mayer Lake","v":-0.83,"d":0.15},{"panel":"td","pop":"Mayer Lake","v":-1.4,"d":0.08},{"panel":"td","pop":"Mayer Lake","v":-1.96,"d":0.05},{"panel":"td","pop":"Mayer Lake","v":-2.51,"d":0.04},{"panel":"td","pop":"Mayer Lake","v":-2.69,"d":0},
{"panel":"td","pop":"Roadside Pond","v":2.3,"d":0},{"panel":"td","pop":"Roadside Pond","v":2.25,"d":0.02},{"panel":"td","pop":"Roadside Pond","v":1.52,"d":0.07},{"panel":"td","pop":"Roadside Pond","v":1.24,"d":0.14},{"panel":"td","pop":"Roadside Pond","v":1.07,"d":0.31},{"panel":"td","pop":"Roadside Pond","v":0.9,"d":0.65},{"panel":"td","pop":"Roadside Pond","v":0.76,"d":0.95},{"panel":"td","pop":"Roadside Pond","v":0.64,"d":0.79},{"panel":"td","pop":"Roadside Pond","v":0.51,"d":0.45},{"panel":"td","pop":"Roadside Pond","v":0.34,"d":0.25},{"panel":"td","pop":"Roadside Pond","v":0.12,"d":0.17},{"panel":"td","pop":"Roadside Pond","v":-0.28,"d":0.11},{"panel":"td","pop":"Roadside Pond","v":-0.83,"d":0.07},{"panel":"td","pop":"Roadside Pond","v":-1.4,"d":0.05},{"panel":"td","pop":"Roadside Pond","v":-1.96,"d":0.035},{"panel":"td","pop":"Roadside Pond","v":-2.3,"d":0}]
},
"columns": 2,
"spacing": 0,
"bounds": "flush",
"align": "each",
"concat": [
 {"width": 460, "height": 24, "view": {"stroke": null},
  "layer": [
   {"data": {"name": "genes"}, "mark": {"type": "rect", "color": "#c8c8c8"},
    "encoding": {"x": {"field": "start", "type": "quantitative", "scale": {"domain": [16.0187, 16.5179], "nice": false, "zero": false}, "axis": null}, "x2": {"field": "end"},
     "y": {"datum": 0.125, "type": "quantitative", "scale": {"domain": [0, 1], "nice": false}, "axis": null}, "y2": {"datum": 0.3125}}},
   {"data": {"name": "focal"}, "mark": {"type": "rect", "color": "#000"},
    "encoding": {"x": {"field": "start", "type": "quantitative", "scale": {"domain": [16.0187, 16.5179], "nice": false, "zero": false}, "axis": null}, "x2": {"field": "end"},
     "y": {"datum": 0, "type": "quantitative", "scale": {"domain": [0, 1], "nice": false}, "axis": null}, "y2": {"datum": 0.42}}},
   {"data": {"name": "focal"}, "transform": [{"filter": "datum.name === 'SWS2'"}],
    "mark": {"type": "text", "align": "right", "baseline": "middle", "dx": -15, "fontSize": 16, "fontStyle": "italic", "color": "#000"},
    "encoding": {"x": {"field": "start", "type": "quantitative"}, "y": {"datum": 0.667, "type": "quantitative"}, "text": {"field": "name"}}},
   {"data": {"name": "focal"}, "transform": [{"filter": "datum.name === 'LWS'"}],
    "mark": {"type": "text", "align": "left", "baseline": "middle", "dx": 8, "fontSize": 16, "fontStyle": "italic", "color": "#000"},
    "encoding": {"x": {"field": "end", "type": "quantitative"}, "y": {"datum": 0.667, "type": "quantitative"}, "text": {"field": "name"}}}
  ]},
 {"width": 115, "height": 24, "view": {"stroke": null}, "data": {"values": [{}]}, "mark": {"type": "text", "text": ""}},
 {"width": 460, "height": 180,
  "layer": [
   {"data": {"name": "vlines"}, "mark": {"type": "rule", "color": "#333", "strokeDash": [1, 2], "strokeWidth": 1.2},
    "encoding": {"x": {"field": "pos", "type": "quantitative", "scale": {"domain": [16.0187, 16.5179], "nice": false, "zero": false}, "axis": null}}},
   {"data": {"name": "fstq"}, "mark": {"type": "rule", "color": "#555", "strokeDash": [3, 2], "strokeWidth": 1},
    "encoding": {"y": {"field": "q", "type": "quantitative", "scale": {"domain": [-0.015, 0.2385], "nice": false, "zero": false}, "axis": {"values": [0, 0.05, 0.1, 0.15, 0.2], "format": ".2f", "title": null}}}},
   {"data": {"name": "fst"}, "mark": {"type": "line", "color": "#000", "strokeWidth": 2, "clip": true},
    "encoding": {"x": {"field": "pos", "type": "quantitative", "scale": {"domain": [16.0187, 16.5179], "nice": false, "zero": false}, "axis": null},
     "y": {"field": "v", "type": "quantitative", "scale": {"domain": [-0.015, 0.2385], "nice": false, "zero": false}, "axis": {"values": [0, 0.05, 0.1, 0.15, 0.2], "format": ".2f", "title": null}}}},
   {"data": {"values": [{}]}, "mark": {"type": "text", "text": "F", "align": "right", "baseline": "middle", "fontSize": 16, "color": "#000"},
    "encoding": {"x": {"datum": 15.9273, "type": "quantitative"}, "y": {"datum": 0.109, "type": "quantitative"}}},
   {"data": {"values": [{}]}, "mark": {"type": "text", "text": "ST", "align": "left", "baseline": "middle", "dx": 0.5, "dy": 5, "fontSize": 11, "color": "#000"},
    "encoding": {"x": {"datum": 15.9273, "type": "quantitative"}, "y": {"datum": 0.109, "type": "quantitative"}}}
  ]},
 {"width": 115, "height": 180,
  "layer": [
   {"data": {"name": "dens"}, "transform": [{"filter": "datum.panel === 'fst'"}],
    "mark": {"type": "area", "orient": "horizontal", "fill": "#b2b2b2", "stroke": "#555", "strokeWidth": 1.5, "interpolate": "monotone", "clip": true},
    "encoding": {"y": {"field": "v", "type": "quantitative", "scale": {"domain": [-0.015, 0.2385], "nice": false, "zero": false}, "axis": null},
     "x": {"field": "d", "type": "quantitative", "stack": null, "scale": {"domain": [0, 1], "nice": false}, "axis": null}}},
   {"data": {"name": "fstq"}, "mark": {"type": "rule", "color": "#555", "strokeDash": [3, 2], "strokeWidth": 1},
    "encoding": {"y": {"field": "q", "type": "quantitative", "scale": {"domain": [-0.015, 0.2385], "nice": false, "zero": false}, "axis": null}}}
  ]},
 {"width": 460, "height": 180,
  "layer": [
   {"data": {"name": "vlines"}, "mark": {"type": "rule", "color": "#333", "strokeDash": [1, 2], "strokeWidth": 1.2},
    "encoding": {"x": {"field": "pos", "type": "quantitative", "scale": {"domain": [16.0187, 16.5179], "nice": false, "zero": false}, "axis": null}}},
   {"data": {"name": "piq"}, "mark": {"type": "rule", "strokeWidth": 1, "opacity": 0.8},
    "encoding": {"y": {"field": "q", "type": "quantitative", "scale": {"domain": [-0.00116, 0.01371], "nice": false, "zero": false}, "axis": {"values": [0, 0.003, 0.006, 0.009, 0.012], "format": ".3f", "title": null}},
     "color": {"field": "pop", "type": "nominal", "scale": {"domain": ["Mayer Lake", "Roadside Pond"], "range": ["#ea1a1a", "#1a1ae6"]},
      "legend": {"orient": "none", "legendX": 304, "legendY": 217, "title": null, "symbolType": "stroke", "symbolSize": 841, "symbolStrokeWidth": 2, "labelFontSize": 16, "labelOffset": 13, "clipHeight": 16, "rowPadding": 2}},
     "strokeDash": {"field": "lab", "type": "nominal", "scale": {"range": [[3, 2]]},
      "legend": {"orient": "none", "legendX": 14, "legendY": 211, "title": null, "symbolType": "stroke", "symbolSize": 784, "symbolStrokeColor": "#444", "symbolStrokeWidth": 1, "labelFontSize": 16, "labelOffset": 15, "labelLimit": 400}}}},
   {"data": {"name": "pi"}, "mark": {"type": "line", "strokeWidth": 2, "clip": true},
    "encoding": {"x": {"field": "pos", "type": "quantitative", "scale": {"domain": [16.0187, 16.5179], "nice": false, "zero": false}, "axis": null},
     "y": {"field": "v", "type": "quantitative", "scale": {"domain": [-0.00116, 0.01371], "nice": false, "zero": false}, "axis": {"values": [0, 0.003, 0.006, 0.009, 0.012], "format": ".3f", "title": null}},
     "color": {"field": "pop", "type": "nominal", "scale": {"domain": ["Mayer Lake", "Roadside Pond"], "range": ["#ea1a1a", "#1a1ae6"]},
      "legend": {"orient": "none", "legendX": 304, "legendY": 217, "title": null, "symbolType": "stroke", "symbolSize": 841, "symbolStrokeWidth": 2, "labelFontSize": 16, "labelOffset": 13, "clipHeight": 16, "rowPadding": 2}}}},
   {"data": {"values": [{}]}, "mark": {"type": "text", "text": "π", "align": "center", "baseline": "middle", "fontSize": 17, "font": "Liberation Serif", "color": "#000"},
    "encoding": {"x": {"datum": 15.9381, "type": "quantitative"}, "y": {"datum": 0.0062, "type": "quantitative"}}}
  ]},
 {"width": 115, "height": 180,
  "layer": [
   {"data": {"name": "dens"}, "transform": [{"filter": "datum.panel === 'pi' && datum.pop === 'Mayer Lake'"}],
    "mark": {"type": "area", "orient": "horizontal", "fill": "#ff2020", "fillOpacity": 0.35, "stroke": "#e81818", "strokeOpacity": 0.75, "strokeWidth": 1.5, "interpolate": "monotone", "clip": true},
    "encoding": {"y": {"field": "v", "type": "quantitative", "scale": {"domain": [-0.00116, 0.01371], "nice": false, "zero": false}, "axis": null},
     "x": {"field": "d", "type": "quantitative", "stack": null, "scale": {"domain": [0, 1], "nice": false}, "axis": null}}},
   {"data": {"name": "dens"}, "transform": [{"filter": "datum.panel === 'pi' && datum.pop === 'Roadside Pond'"}],
    "mark": {"type": "area", "orient": "horizontal", "fill": "#2020ff", "fillOpacity": 0.3, "stroke": "#1818e8", "strokeOpacity": 0.75, "strokeWidth": 1.5, "interpolate": "monotone", "clip": true},
    "encoding": {"y": {"field": "v", "type": "quantitative", "scale": {"domain": [-0.00116, 0.01371], "nice": false, "zero": false}, "axis": null},
     "x": {"field": "d", "type": "quantitative", "stack": null, "scale": {"domain": [0, 1], "nice": false}, "axis": null}}},
   {"data": {"name": "piq"}, "mark": {"type": "rule", "strokeWidth": 1, "opacity": 0.8, "strokeDash": [3, 2]},
    "encoding": {"y": {"field": "q", "type": "quantitative", "scale": {"domain": [-0.00116, 0.01371], "nice": false, "zero": false}, "axis": null},
     "color": {"field": "pop", "type": "nominal", "scale": {"domain": ["Mayer Lake", "Roadside Pond"], "range": ["#ea1a1a", "#1a1ae6"]},
      "legend": {"orient": "none", "legendX": 304, "legendY": 217, "title": null, "symbolType": "stroke", "symbolSize": 841, "symbolStrokeWidth": 2, "labelFontSize": 16, "labelOffset": 13, "clipHeight": 16, "rowPadding": 2}}}}
  ]},
 {"width": 460, "height": 180,
  "layer": [
   {"data": {"name": "vlines"}, "mark": {"type": "rule", "color": "#333", "strokeDash": [1, 2], "strokeWidth": 1.2},
    "encoding": {"x": {"field": "pos", "type": "quantitative", "scale": {"domain": [16.0187, 16.5179], "nice": false, "zero": false}, "axis": {"values": [16.1, 16.2, 16.3, 16.4, 16.5], "format": ".1f", "title": "XVII", "titlePadding": 9, "tickSize": 10, "labelPadding": 4}}}},
   {"data": {"name": "tdq"}, "mark": {"type": "rule", "strokeWidth": 1, "opacity": 0.8, "strokeDash": [3, 2]},
    "encoding": {"y": {"field": "q", "type": "quantitative", "scale": {"domain": [-2.754, 2.464], "nice": false, "zero": false}, "axis": {"values": [-2, -1, 0, 1, 2], "format": "d", "title": null}},
     "color": {"field": "pop", "type": "nominal", "scale": {"domain": ["Mayer Lake", "Roadside Pond"], "range": ["#ea1a1a", "#1a1ae6"]},
      "legend": {"orient": "none", "legendX": 304, "legendY": 217, "title": null, "symbolType": "stroke", "symbolSize": 841, "symbolStrokeWidth": 2, "labelFontSize": 16, "labelOffset": 13, "clipHeight": 16, "rowPadding": 2}}}},
   {"data": {"name": "td"}, "mark": {"type": "line", "strokeWidth": 2, "clip": true},
    "encoding": {"x": {"field": "pos", "type": "quantitative", "scale": {"domain": [16.0187, 16.5179], "nice": false, "zero": false}, "axis": {"values": [16.1, 16.2, 16.3, 16.4, 16.5], "format": ".1f", "title": "XVII", "titlePadding": 9, "tickSize": 10, "labelPadding": 4}},
     "y": {"field": "v", "type": "quantitative", "scale": {"domain": [-2.754, 2.464], "nice": false, "zero": false}, "axis": {"values": [-2, -1, 0, 1, 2], "format": "d", "title": null}},
     "color": {"field": "pop", "type": "nominal", "scale": {"domain": ["Mayer Lake", "Roadside Pond"], "range": ["#ea1a1a", "#1a1ae6"]},
      "legend": {"orient": "none", "legendX": 304, "legendY": 217, "title": null, "symbolType": "stroke", "symbolSize": 841, "symbolStrokeWidth": 2, "labelFontSize": 16, "labelOffset": 13, "clipHeight": 16, "rowPadding": 2}}}},
   {"data": {"values": [{}]}, "mark": {"type": "text", "text": "T", "align": "right", "baseline": "middle", "fontSize": 16, "color": "#000"},
    "encoding": {"x": {"datum": 15.9316, "type": "quantitative"}, "y": {"datum": 0.0, "type": "quantitative"}}},
   {"data": {"values": [{}]}, "mark": {"type": "text", "text": "D", "align": "left", "baseline": "middle", "dx": 0.5, "dy": 5, "fontSize": 11, "color": "#000"},
    "encoding": {"x": {"datum": 15.9316, "type": "quantitative"}, "y": {"datum": 0.0, "type": "quantitative"}}}
  ]},
 {"width": 115, "height": 180,
  "layer": [
   {"data": {"name": "dens"}, "transform": [{"filter": "datum.panel === 'td' && datum.pop === 'Mayer Lake'"}],
    "mark": {"type": "area", "orient": "horizontal", "fill": "#ff2020", "fillOpacity": 0.35, "stroke": "#e81818", "strokeOpacity": 0.75, "strokeWidth": 1.5, "interpolate": "monotone", "clip": true},
    "encoding": {"y": {"field": "v", "type": "quantitative", "scale": {"domain": [-2.754, 2.464], "nice": false, "zero": false}, "axis": null},
     "x": {"field": "d", "type": "quantitative", "stack": null, "scale": {"domain": [0, 1], "nice": false}, "axis": {"title": "density", "ticks": false, "labels": false, "domain": false, "titlePadding": 28}}}},
   {"data": {"name": "dens"}, "transform": [{"filter": "datum.panel === 'td' && datum.pop === 'Roadside Pond'"}],
    "mark": {"type": "area", "orient": "horizontal", "fill": "#2020ff", "fillOpacity": 0.3, "stroke": "#1818e8", "strokeOpacity": 0.75, "strokeWidth": 1.5, "interpolate": "monotone", "clip": true},
    "encoding": {"y": {"field": "v", "type": "quantitative", "scale": {"domain": [-2.754, 2.464], "nice": false, "zero": false}, "axis": null},
     "x": {"field": "d", "type": "quantitative", "stack": null, "scale": {"domain": [0, 1], "nice": false}, "axis": {"title": "density", "ticks": false, "labels": false, "domain": false, "titlePadding": 28}}}},
   {"data": {"name": "tdq"}, "mark": {"type": "rule", "strokeWidth": 1, "opacity": 0.8, "strokeDash": [3, 2]},
    "encoding": {"y": {"field": "q", "type": "quantitative", "scale": {"domain": [-2.754, 2.464], "nice": false, "zero": false}, "axis": null},
     "color": {"field": "pop", "type": "nominal", "scale": {"domain": ["Mayer Lake", "Roadside Pond"], "range": ["#ea1a1a", "#1a1ae6"]},
      "legend": {"orient": "none", "legendX": 304, "legendY": 217, "title": null, "symbolType": "stroke", "symbolSize": 841, "symbolStrokeWidth": 2, "labelFontSize": 16, "labelOffset": 13, "clipHeight": 16, "rowPadding": 2}}}}
  ]}
]
}
